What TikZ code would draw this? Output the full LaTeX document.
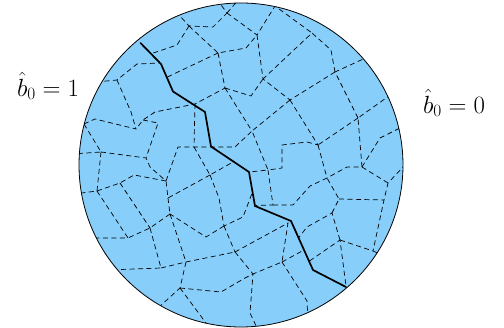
\documentclass[tikz,border=0pt]{standalone}
\definecolor{disk}{RGB}{135,206,250}
\begin{document}
\begin{tikzpicture}[x=1pt,y=-1pt,
  cell/.style={draw=black, line width=0.7pt, dash pattern=on 5pt off 3.5pt},
  rim/.style={draw=black, line width=0.8pt},
  cut/.style={draw=black, line width=1.7pt, line join=round, line cap=round},
  lbl/.style={inner sep=0pt, font=\fontsize{24}{28}\selectfont}]
\useasboundingbox (0,0) rectangle (504,328);
\coordinate (O) at (241,165);
\fill[disk] (O) circle (162pt);
% vertices of the cell network
\coordinate (a1) at (189,26);  \coordinate (a2) at (213,27);  \coordinate (a3) at (227,13);
\coordinate (a4) at (218,53);  \coordinate (a5) at (177,45);  \coordinate (a6) at (225,88);
\coordinate (a7) at (117,80);  \coordinate (a7b) at (137,64); \coordinate (b1) at (246,48);
\coordinate (v1) at (257,35);  \coordinate (v2) at (263,79);  \coordinate (v3) at (312,33);
\coordinate (v3b) at (331,50); \coordinate (v4) at (335,72);  \coordinate (v5) at (290,100);
\coordinate (u1) at (251,96);  \coordinate (w0) at (275,6);
\coordinate (c1) at (195,104); \coordinate (c2) at (143,120); \coordinate (c2b) at (155,112);
\coordinate (c3) at (194,147); \coordinate (c4) at (158,123); \coordinate (c5) at (146,158);
\coordinate (c5b) at (150,167);\coordinate (q) at (136,129);  \coordinate (qb) at (131,112);
\coordinate (p) at (84,124);   \coordinate (pb) at (95,119);  \coordinate (r) at (101,152);
\coordinate (s) at (97,191);   \coordinate (s2) at (120,183); \coordinate (s3) at (134,175);
\coordinate (d1) at (166,181); \coordinate (d2) at (178,147); \coordinate (d3) at (168,198);
\coordinate (d4) at (210,175); \coordinate (d4b) at (219,198);\coordinate (e0) at (235,147);
\coordinate (e1) at (224,226); \coordinate (e1b) at (243,217);\coordinate (e2) at (235,252);
\coordinate (x1) at (252,131); \coordinate (x2) at (268,170); \coordinate (w1) at (282,145);
\coordinate (w1b) at (307,142);\coordinate (w2) at (282,168); \coordinate (w3) at (318,145);
\coordinate (n1) at (358,118); \coordinate (k0) at (362,167); \coordinate (k0b) at (347,167);
\coordinate (k1) at (388,183); \coordinate (k2) at (384,200); \coordinate (k3) at (380,138);
\coordinate (h1) at (373,251); \coordinate (g1) at (332,213); \coordinate (g1b) at (307,227);
\coordinate (g2) at (339,199); \coordinate (g3) at (327,178); \coordinate (g3b) at (310,186);
\coordinate (m1) at (293,205); \coordinate (m2) at (273,205); \coordinate (f0) at (288,223);
\coordinate (f1) at (282,262); \coordinate (f1b) at (307,301);\coordinate (f2) at (253,274);
\coordinate (f3) at (250,313); \coordinate (f4) at (340,240);
\coordinate (z1) at (128,238); \coordinate (z2) at (150,228); \coordinate (z3) at (170,214);
\coordinate (z4) at (161,268); \coordinate (z5) at (186,262); \coordinate (z6) at (206,237);
\coordinate (z7) at (180,288); \coordinate (z7b) at (221,292);\coordinate (z7c) at (245,278);
% points where cells meet the cut
\coordinate (t1) at (151,53.8);  \coordinate (t2) at (166.8,77.3); \coordinate (t3) at (160,63);
\coordinate (t4) at (233.6,161.7); \coordinate (t5) at (252.5,192); \coordinate (t6) at (304,250);
\coordinate (t7) at (309.5,261); \coordinate (t8) at (346,286);   \coordinate (t9) at (298.5,238);
\coordinate (t10) at (255.5,205.5); \coordinate (t11) at (249.5,172);
% points beyond the rim (clipped)
\coordinate (o1) at (170,5);   \coordinate (o2) at (216,-2);  \coordinate (o3) at (240,-2);
\coordinate (o5) at (372,55);  \coordinate (o6) at (396,91);  \coordinate (o7) at (404,126);
\coordinate (o8) at (406,164); \coordinate (o9) at (384,256); \coordinate (o10) at (308,320);
\coordinate (o11) at (259,332);\coordinate (o12) at (209,327);\coordinate (o13) at (158,308);
\coordinate (o14) at (108,270);\coordinate (o15) at (86,238); \coordinate (o16) at (74,194);
\coordinate (o17) at (72,154); \coordinate (o18) at (72,124); \coordinate (o19) at (96,82);
\begin{scope}
\clip (O) circle (162pt);
\draw[cell] (o1) -- (a1) -- (a2) -- (a3) -- (o2);
\draw[cell] (a3) -- (o3);
\draw[cell] (a3) -- (v1) -- (w0) -- (v3);
\draw[cell] (a1) -- (a5) -- (t1);
\draw[cell] (a1) -- (a4) -- (b1) -- (v1) -- (v2);
\draw[cell] (a4) -- (t2);
\draw[cell] (a4) -- (a6) -- (c1) -- (c2b) -- (c2) -- (q);
\draw[cell] (c1) -- (c3);
\draw[cell] (c2) -- (c4) -- (c5);
\draw[cell] (a6) -- (u1) -- (v2);
\draw[cell] (a6) -- (x1);
\draw[cell] (o19) -- (a7) -- (a7b) -- (t3);
\draw[cell] (a7) -- (qb) -- (q) -- (pb) -- (p) -- (o18);
\draw[cell] (p) -- (r) -- (o17);
\draw[cell] (r) -- (c5) -- (c5b) -- (d1);
\draw[cell] (r) -- (s) -- (o16);
\draw[cell] (s) -- (s2) -- (s3) -- (d1);
\draw[cell] (s2) -- (z2);
\draw[cell] (s) -- (z1) -- (o15);
\draw[cell] (d1) -- (d2) -- (c3) -- (e0) -- (x1);
\draw[cell] (c3) -- (d4) -- (t4);
\draw[cell] (d4) -- (d3) -- (d1);
\draw[cell] (d3) -- (z3);
\draw[cell] (d4) -- (d4b) -- (e1) -- (e1b) -- (t5);
\draw[cell] (e1) -- (z6) -- (z3);
\draw[cell] (e1) -- (e2);
\draw[cell] (z3) -- (z2) -- (z1);
\draw[cell] (z3) -- (z5);
\draw[cell] (z2) -- (z4) -- (o14);
\draw[cell] (z4) -- (z5) -- (e2);
\draw[cell] (z5) -- (z7) -- (o13);
\draw[cell] (z7) -- (o12);
\draw[cell] (z7) -- (z7b) -- (z7c) -- (f2);
\draw[cell] (e2) -- (f2) -- (f3) -- (o11);
\draw[cell] (e2) -- (f0) -- (f1) -- (f2);
\draw[cell] (f1) -- (t6);
\draw[cell] (f1) -- (f1b) -- (o10);
\draw[cell] (t7) -- (f4) -- (t8);
\draw[cell] (f4) -- (h1) -- (o9);
\draw[cell] (f4) -- (g1) -- (g1b) -- (t9);
\draw[cell] (g1) -- (g2) -- (g3);
\draw[cell] (g2) -- (k2);
\draw[cell] (o8) -- (k1) -- (k2) -- (h1);
\draw[cell] (k1) -- (k0) -- (k0b) -- (g3);
\draw[cell] (k0) -- (k3) -- (o7);
\draw[cell] (k0) -- (n1) -- (o6);
\draw[cell] (n1) -- (w3);
\draw[cell] (n1) -- (v4) -- (o5);
\draw[cell] (v4) -- (v3b) -- (v3) -- (v2);
\draw[cell] (v4) -- (v5) -- (v2);
\draw[cell] (v5) -- (w3) -- (w1b) -- (w1) -- (w2) -- (x2);
\draw[cell] (v5) -- (x1) -- (x2) -- (t11);
\draw[cell] (x2) -- (m2) -- (t10);
\draw[cell] (m2) -- (m1) -- (g3b) -- (g3) -- (w3);
\end{scope}
% the cut
\coordinate (p0) at (140.5,43); \coordinate (p1) at (161,64);  \coordinate (p2) at (173,91.5);
\coordinate (p3) at (205,112);  \coordinate (p4) at (211,146.5); \coordinate (p5) at (249,172);
\coordinate (p6) at (255,206);  \coordinate (p7) at (291,221);  \coordinate (p8) at (313,270);
\coordinate (p9) at (346,287);
\draw[cut] (p0) -- (p1) -- (p2) -- (p3) -- (p4) -- (p5) -- (p6) -- (p7) -- (p8) -- (p9);
\draw[rim] (O) circle (162pt);
\node[lbl] (left) at (48,86) {$\hat{b}_0 = 1$};
\node[lbl] (right) at (454,103) {$\hat{b}_0 = 0$};
\end{tikzpicture}
\end{document}
